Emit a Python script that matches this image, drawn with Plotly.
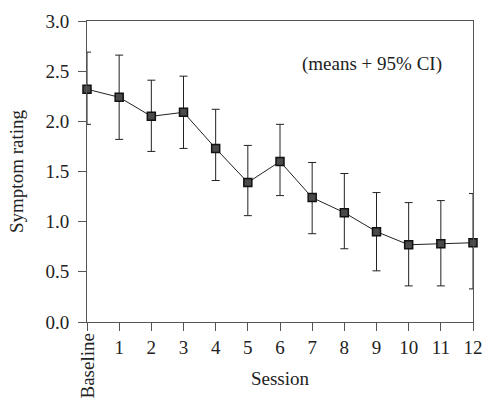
import plotly.graph_objects as go

sessions = list(range(13))
tick_labels = ["", "1", "2", "3", "4", "5", "6", "7", "8", "9", "10", "11", "12"]
means = [2.32, 2.24, 2.05, 2.09, 1.73, 1.39, 1.60, 1.24, 1.09, 0.90, 0.77, 0.78, 0.79]
ci_upper = [2.69, 2.66, 2.41, 2.45, 2.12, 1.76, 1.97, 1.59, 1.48, 1.29, 1.19, 1.21, 1.28]
ci_lower = [1.97, 1.82, 1.70, 1.73, 1.41, 1.06, 1.26, 0.88, 0.73, 0.51, 0.36, 0.36, 0.33]

err_plus = [u - m for u, m in zip(ci_upper, means)]
err_minus = [m - l for m, l in zip(means, ci_lower)]

font = "Liberation Serif, Times New Roman, serif"
FS = 19

fig = go.Figure()
fig.add_trace(go.Scatter(
    x=sessions, y=means, mode="lines+markers",
    line=dict(color="#222", width=1),
    marker=dict(symbol="square", size=8, color="#4a4a4a", line=dict(color="#111", width=1.5)),
    error_y=dict(type="data", symmetric=False, array=err_plus, arrayminus=err_minus,
                 color="#222", thickness=1, width=4),
    cliponaxis=False, showlegend=False,
))

fig.update_layout(
    width=494, height=402,
    margin=dict(l=87, r=11, t=19, b=80),
    paper_bgcolor="white", plot_bgcolor="white",
    font=dict(family=font, size=FS, color="#222"),
    xaxis=dict(range=[0, 12], tickvals=sessions, ticktext=tick_labels,
               ticks="outside", ticklen=8, tickcolor="#555", showgrid=False, zeroline=False,
               showline=True, linecolor="#555", linewidth=1, mirror=True,
               tickfont=dict(size=FS),
               title=dict(text="Session", font=dict(size=FS), standoff=14)),
    yaxis=dict(range=[0, 3.0], tickvals=[0, 0.5, 1.0, 1.5, 2.0, 2.5, 3.0],
               ticktext=["0.0", "0.5", "1.0", "1.5", "2.0", "2.5", "3.0"],
               ticks="outside", ticklen=8, tickcolor="#555", showgrid=False, zeroline=False,
               showline=True, linecolor="#555", linewidth=1, mirror=True,
               tickfont=dict(size=FS), ticklabelstandoff=5,
               title=dict(text="Symptom rating", font=dict(size=FS), standoff=16)),
    annotations=[
        dict(x=0, y=0, xref="x", yref="y", text="Baseline", textangle=-90,
             showarrow=False, xanchor="center", yanchor="top", yshift=-10,
             font=dict(family=font, size=FS, color="#222")),
        dict(x=8.85, y=2.57, xref="x", yref="y", text="(means + 95% CI)",
             showarrow=False, xanchor="center", yanchor="middle",
             font=dict(family=font, size=FS, color="#222")),
    ],
)

fig.write_html("out.html")
